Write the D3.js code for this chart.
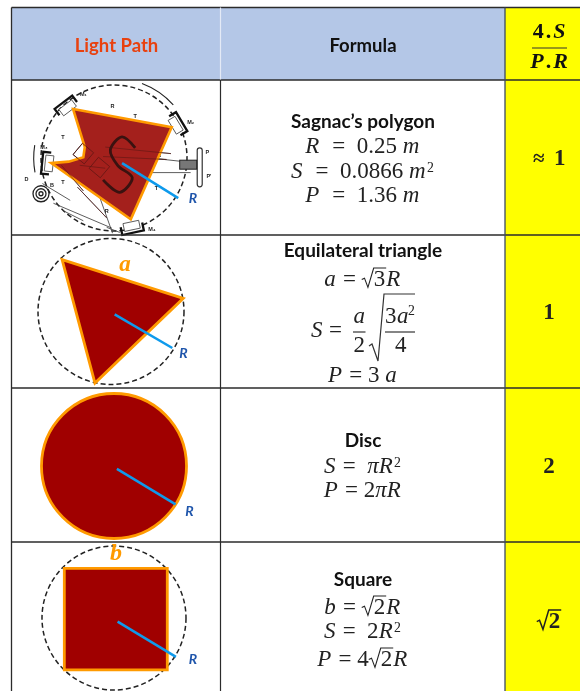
<!DOCTYPE html>
<html><head><meta charset="utf-8">
<style>html,body{margin:0;padding:0;background:#fff}svg{display:block;filter:blur(.35px)}</style>
<script src="https://cdn.jsdelivr.net/npm/d3@7"></script></head><body>
<svg id="c" width="580" height="691"></svg>
<script>
// ---------- DATA ----------
const headers = ["Light Path", "Formula"];
const ratioHeaderTop = "4.S", ratioHeaderBottom = "P.R";
const rowKeys = ["sagnac", "triangle", "disc", "square"];
const shapeNames = ["Sagnac’s polygon", "Equilateral triangle", "Disc", "Square"];
const ratioLabels = ["≈ 1", "1", "2", "√2"];
// tokens: plain string = upright, {i} italic, {sup} superscript, {sqrt} radical
const formulasSagnac = [
  [{i:"R"},"  =  0.25 ",{i:"m"}],
  [{i:"S"},"  =  0.0866 ",{i:"m"},{sup:"2"}],
  [{i:"P"},"  =  1.36 ",{i:"m"}]];
const formulasTriangle = [
  [{i:"a"}," = ",{sqrt:"3"},{i:"R"}],
  [{i:"P"}," = 3 ",{i:"a"}]];
const formulasDisc = [
  [{i:"S"}," =  ",{i:"πR"},{sup:"2"}],
  [{i:"P"}," = 2",{i:"πR"}]];
const formulasSquare = [
  [{i:"b"}," = ",{sqrt:"2"},{i:"R"}],
  [{i:"S"}," =  2",{i:"R"},{sup:"2"}],
  [{i:"P"}," = 4",{sqrt:"2"},{i:"R"}]];
// Geometry in units of the circle radius R
const triangleVertices = [[-.67,-.71],[.99,-.18],[-.22,.98]];
const squareVertices = [[-.69,-.69],[.74,-.69],[.74,.72],[-.69,.72]];
const sagnacVertices = [[-.56,-.67],[.79,-.42],[.23,.84],[-.86,.07],[-.62,.05],[-.42,-.01],[-.40,-.15]];
const radiusLines = {sagnac:[[.11,.07],[.88,.55]], triangle:[[.05,.04],[.84,.5]], disc:[[.04,.04],[.85,.53]], square:[[.05,.05],[.86,.54]]};
const sagnacLetter = [[.29,-.14],[.11,-.29],[-.05,-.11],[.05,.10],[.25,.27],[.08,.47],[-.15,.30]];
// Sagnac apparatus sketch, units of R
const mirrorPoses = [[-.66,-.72,143],[.88,-.47,-121],[-.93,.07,96],[.25,.97,-12]];
const apparatusLines = [
  [[-.12,-.15],[.78,-.06]],[[-.15,-.02],[.72,.02]],[[.5,.0],[1.05,.06]],[[.42,.2],[1.05,.2]],
  [[-.47,.1],[-.12,.14]],[[-.72,.1],[-.42,.45]],[[-.5,.4],[-.1,.82]],[[-.28,.3],[-.02,1.03]],
  [[-.83,.62],[-.03,.96]],[[-.98,.35],[-.6,.58]],[[-.1,.95],[.08,1.02]],[[-.7,.72],[-.42,.86]]];
const openBoxes = [[-.42,-.06,.2,40],[-.2,.13,.2,40]];
const apparatusLabels = [["M₁",-.42,-.85],["M₂",1.05,-.46],["M₃",-.96,-.12],["M₄",.52,1.0],["R",-.02,-.68],["T",.29,-.55],["T",-.7,-.26],["T",-.7,.36],["R",.62,-.02],["L",-.12,-.15],["T",.58,.44],["R",-.1,.75],["C",-.27,.38],["D",-1.2,.32],["B",-.85,.4],["P",1.28,-.05],["P'",1.3,.27],["T",.12,.1],["P",.32,.1]];
// ---------- LAYOUT ----------
const svg = d3.select("#c");
const colX = d3.scaleOrdinal(["left","mid","right","end"],[11.5,220.5,505,580]);
const rowTop = d3.scaleOrdinal(["head",...rowKeys],[7.5,80,235,388,542]);
const rowBottom = d3.scaleOrdinal(["head",...rowKeys],[80,235,388,542,691]);
const centre = {sagnac:[114,158,73],triangle:[111,311.5,73],disc:[114,466,72.5],square:[114,618,72]};
const sx = {}, sy = {};
rowKeys.forEach(k=>{const [x,y,r]=centre[k];
  sx[k]=d3.scaleLinear([-1,1],[x-r,x+r]); sy[k]=d3.scaleLinear([-1,1],[y-r,y+r]);});
const lineGen = d3.line();
const pts = (k,a)=>a.map(p=>[sx[k](p[0]),sy[k](p[1])]);
const MATH = "'Liberation Serif',serif", SANS = "Lato,sans-serif";
const BLUE="#0e9aec", RED="#a00000", ORANGE="#ff9a00", LBL="#1f55ab";

// ---------- CELLS ----------
svg.append("rect").attr("x",colX("left")).attr("y",rowTop("head")).attr("width",colX("right")-colX("left")).attr("height",rowBottom("head")-rowTop("head")).attr("fill","#b4c7e7");
svg.append("rect").attr("x",colX("right")).attr("y",rowTop("head")).attr("width",colX("end")-colX("right")).attr("height",691-rowTop("head")).attr("fill","#ffff00");

// ---------- DIAGRAMS ----------
function dashed(k){const [x,y,r]=centre[k];
  svg.append("circle").attr("cx",x).attr("cy",y).attr("r",r).attr("fill","none").attr("stroke","#222").attr("stroke-width",1.5).attr("stroke-dasharray","5 3");}
function poly(k,v,fill,sw){svg.append("path").attr("d",lineGen(pts(k,v))+"Z").attr("fill",fill).attr("stroke",ORANGE).attr("stroke-width",sw||2.8).attr("stroke-linejoin","miter");}
function radius(k){svg.append("path").attr("d",lineGen(pts(k,radiusLines[k]))).attr("stroke",BLUE).attr("stroke-width",2.5).attr("fill","none");}
function bi(t,x,y,fs,fill,font){svg.append("text").attr("x",x).attr("y",y).attr("text-anchor","middle").attr("font-family",font||SANS).attr("font-weight",700).attr("font-style","italic").attr("font-size",fs).attr("fill",fill).text(t);}

// Sagnac
dashed("sagnac");
{
  const k="sagnac",[cx,cy,r]=centre[k];
  const sg = svg.append("g");
  apparatusLines.forEach(l=>sg.append("path").attr("d",lineGen(pts(k,l))).attr("stroke","#333").attr("stroke-width",.8).attr("fill","none"));
  openBoxes.forEach(b=>{const s=b[2]*r;sg.append("rect").attr("x",-s/2).attr("y",-s/2).attr("width",s).attr("height",s).attr("fill","#fff").attr("stroke","#333").attr("stroke-width",.9).attr("transform",`translate(${sx[k](b[0])},${sy[k](b[1])}) rotate(${b[3]})`);});
  mirrorPoses.forEach(m=>{
    const g=sg.append("g").attr("transform",`translate(${sx[k](m[0])},${sy[k](m[1])}) rotate(${m[2]})`);
    g.append("path").attr("d","M-11,-4V4H11V-4").attr("fill","none").attr("stroke","#111").attr("stroke-width",2.3);
    g.append("rect").attr("x",-8).attr("y",-7).attr("width",16).attr("height",8).attr("fill","#fff").attr("stroke","#444").attr("stroke-width",.8);
  });
  const arc=d3.arc();
  [[.36,.84,1.09],[-1.75,-1.41,1.1]].forEach(a=>sg.append("path").attr("transform",`translate(${cx},${cy})`).attr("d",arc({innerRadius:a[2]*r,outerRadius:a[2]*r,startAngle:a[0],endAngle:a[1]})).attr("fill","none").attr("stroke","#222").attr("stroke-width",1.1));
  [8,5,2].forEach(q=>sg.append("circle").attr("cx",sx[k](-1.0)).attr("cy",sy[k](.49)).attr("r",q).attr("fill","none").attr("stroke","#222").attr("stroke-width",1.3));
  sg.append("rect").attr("x",sx[k](1.14)).attr("y",sy[k](-.14)).attr("width",5).attr("height",39).attr("rx",2.5).attr("fill","#fff").attr("stroke","#333").attr("stroke-width",1.2);
  sg.append("rect").attr("x",sx[k](.9)).attr("y",sy[k](.03)).attr("width",17).attr("height",9).attr("fill","#777").attr("stroke","#222").attr("stroke-width",1);
  apparatusLabels.forEach(a=>sg.append("text").attr("x",sx[k](a[1])).attr("y",sy[k](a[2])).attr("text-anchor","middle").attr("font-family","Liberation Sans").attr("font-weight",700).attr("font-size",5.5).attr("fill","#222").text(a[0]));
  poly(k,sagnacVertices,"#a4201c",2.6);
  apparatusLines.slice(0,2).concat(apparatusLines.slice(4,7)).forEach(l=>svg.append("path").attr("d",lineGen(pts(k,l))).attr("stroke","#5c1512").attr("stroke-width",.6).attr("fill","none"));
  openBoxes.forEach(b=>{const s=b[2]*r;svg.append("rect").attr("x",-s/2).attr("y",-s/2).attr("width",s).attr("height",s).attr("fill","none").attr("stroke","#5c1512").attr("stroke-width",.7).attr("transform",`translate(${sx[k](b[0])},${sy[k](b[1])}) rotate(${b[3]})`);});
  svg.append("path").attr("d",d3.line().curve(d3.curveCatmullRom)(pts(k,sagnacLetter))).attr("fill","none").attr("stroke","#3a1210").attr("stroke-width",2.8);
  radius(k);
  bi("R",193,203,14,LBL);
}
// Triangle
dashed("triangle"); poly("triangle",triangleVertices,RED); radius("triangle");
bi("R",183.5,357.5,14,LBL); bi("a",125,271,23,ORANGE,MATH);
// Disc
{const [x,y,r]=centre.disc; svg.append("circle").attr("cx",x).attr("cy",y).attr("r",r).attr("fill",RED).attr("stroke",ORANGE).attr("stroke-width",2.8);}
radius("disc"); bi("R",189.5,515.5,14,LBL);
// Square
dashed("square"); poly("square",squareVertices,RED); radius("square");
bi("R",193,664,14,LBL); bi("b",116,560,24,ORANGE,MATH);

// ---------- GRID ----------
const GRID="#2b2b2b";
["head",...rowKeys].forEach((k,i)=>{const y=rowTop(k);
  svg.append("line").attr("x1",colX("left")).attr("x2",580).attr("y1",y).attr("y2",y).attr("stroke",GRID).attr("stroke-width",i?1.3:1.6);});
svg.append("line").attr("x1",colX("left")).attr("x2",colX("left")).attr("y1",rowTop("head")).attr("y2",691).attr("stroke",GRID).attr("stroke-width",1.3);
svg.append("line").attr("x1",colX("mid")).attr("x2",colX("mid")).attr("y1",rowTop("head")).attr("y2",79.5).attr("stroke","#e4eaf6").attr("stroke-width",1.2);
svg.append("line").attr("x1",colX("mid")).attr("x2",colX("mid")).attr("y1",80).attr("y2",691).attr("stroke",GRID).attr("stroke-width",1.2);
svg.append("line").attr("x1",colX("right")).attr("x2",colX("right")).attr("y1",rowTop("head")).attr("y2",691).attr("stroke","#3b4a63").attr("stroke-width",1.3);

// ---------- TEXT ----------
function label(t,x,y,fs,fill){svg.append("text").attr("x",x).attr("y",y).attr("text-anchor","middle").attr("font-family",SANS).attr("font-weight",700).attr("font-size",fs).attr("fill",fill).text(t);}
label(headers[0],116.5,51.5,18.5,"#e8410f");
label(headers[1],363,51.5,18.5,"#111");
const FORM_X=363;
const nameY=[128,257,447,586];
shapeNames.forEach((n,i)=>label(n,FORM_X,nameY[i],19,"#111"));

function measure(t,st){const n=svg.append("text").attr("font-family",MATH).attr("font-size",st.fs).attr("font-style",st.it?"italic":null).attr("font-weight",st.b?700:null).style("white-space","pre").text(t);
  const w=n.node().getComputedTextLength();n.remove();return w;}
function put(t,x,y,st){svg.append("text").attr("x",x).attr("y",y).attr("font-family",MATH).attr("font-size",st.fs).attr("font-style",st.it?"italic":null).attr("font-weight",st.b?700:null).attr("fill",st.fill||"#222").style("white-space","pre").text(t);}
function radical(x,y,h,w,sw,fs){
  const a=fs*.52;
  svg.append("path").attr("d",`M${x},${y-fs*.28}L${x+fs*.12},${y-fs*.34}L${x+fs*.27},${y+fs*.06}L${x+a},${y-h}H${x+a+w}`).attr("fill","none").attr("stroke","#222").attr("stroke-width",sw);
  return a;}
function tokenWidth(t,fs,b){
  if(typeof t==="string")return measure(t,{fs,b});
  if(t.i)return measure(t.i,{fs,it:true,b})+fs*.06;
  if(t.sup)return measure(t.sup,{fs:fs*.6,b})+1;
  if(t.sqrt)return fs*.52+measure(t.sqrt,{fs,b})+1;
}
function drawFormula(tokens,cx,y,fs,b){
  const W=d3.sum(tokens,t=>tokenWidth(t,fs,b)); let x=cx-W/2;
  tokens.forEach(t=>{
    if(typeof t==="string")put(t,x,y,{fs,b});
    else if(t.i)put(t.i,x,y,{fs,it:true,b});
    else if(t.sup)put(t.sup,x,y-fs*.27,{fs:fs*.6,b});
    else if(t.sqrt){const w=measure(t.sqrt,{fs,b});const a=radical(x,y,fs*.78,w+1,b?1.5:1.1,fs);put(t.sqrt,x+a,y,{fs,b});}
    x+=tokenWidth(t,fs,b);
  });
}
const FS=23;
formulasSagnac.forEach((f,i)=>drawFormula(f,FORM_X,[153,178,202][i],FS));
drawFormula(formulasTriangle[0],FORM_X,286,FS);
drawFormula(formulasTriangle[1],FORM_X,382,FS);
formulasDisc.forEach((f,i)=>drawFormula(f,FORM_X,[473,497][i],FS));
formulasSquare.forEach((f,i)=>drawFormula(f,FORM_X,[614,638,666][i],FS));
// triangle area formula with nested fraction
put("S",311,337,{fs:FS,it:true}); put("=",329,337,{fs:FS});
put("a",353.5,323,{fs:FS,it:true}); put("2",353.5,352,{fs:FS});
svg.append("line").attr("x1",353).attr("x2",365.5).attr("y1",332).attr("y2",332).attr("stroke","#222").attr("stroke-width",1.1);
svg.append("path").attr("d","M369,346L372,344L378,361L384,294H415").attr("fill","none").attr("stroke","#333").attr("stroke-width",1.2);
put("3",385,323,{fs:FS}); put("a",397,323,{fs:FS,it:true}); put("2",408,315,{fs:FS*.6});
put("4",395,352,{fs:FS});
svg.append("line").attr("x1",385).attr("x2",415).attr("y1",332).attr("y2",332).attr("stroke","#222").attr("stroke-width",1.1);

// Ratio column
const RX=549;
function ratioHead(str,y){const fs=22;const a=str.split(".");const num=a[0]==="4";
  const w=measure(a[0],{fs,b:1,it:!num})+measure(".",{fs,b:1})+measure(a[1],{fs,b:1,it:1})+4;let x=RX-w/2;
  put(a[0],x,y,{fs,b:1,it:!num,fill:"#111"});x+=measure(a[0],{fs,b:1,it:!num})+2;
  put(".",x,y,{fs,b:1,fill:"#111"});x+=measure(".",{fs,b:1})+2;
  put(a[1],x,y,{fs,b:1,it:1,fill:"#111"});}
ratioHead(ratioHeaderTop,38); ratioHead(ratioHeaderBottom,68);
svg.append("line").attr("x1",532).attr("x2",567).attr("y1",48).attr("y2",48).attr("stroke","#333").attr("stroke-width",1.1);
const ratioY=[165,319,473,628];
ratioLabels.forEach((r,i)=>{
  if(r.startsWith("√")) drawFormula([{sqrt:r.slice(1)}],RX,ratioY[i],23,true);
  else if(r.startsWith("≈")) {put("≈",533,ratioY[i],{fs:21,b:1}); put("1",554,ratioY[i],{fs:23,b:1});}
  else {const w=measure(r,{fs:23,b:1}); put(r,RX-w/2,ratioY[i],{fs:23,b:1});}
});
</script></body></html>
